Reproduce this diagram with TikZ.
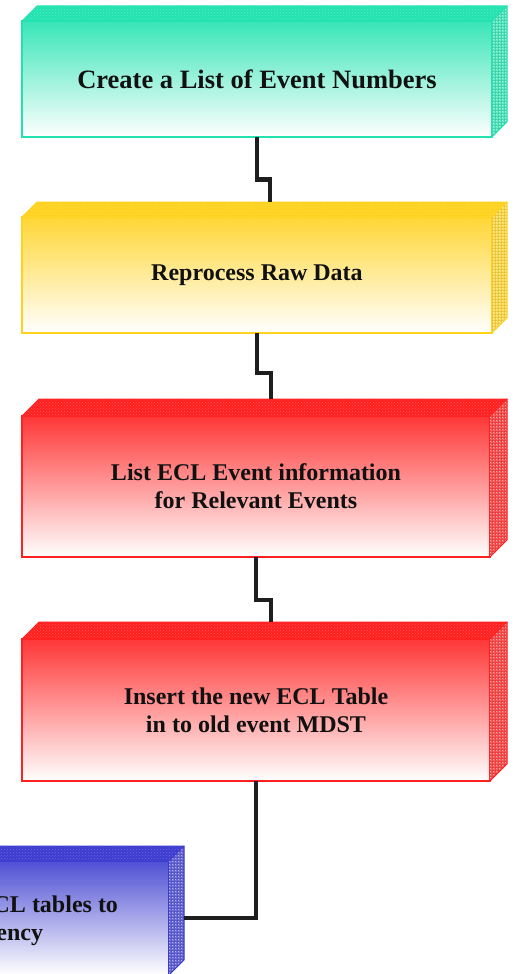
\documentclass[tikz,border=0pt]{standalone}
\usepackage{fontspec}
\setmainfont{Liberation Serif}
\usetikzlibrary{calc,patterns}
\definecolor{tealc}{HTML}{22E3B0}
\definecolor{yelc}{HTML}{FFD21E}
\definecolor{redc}{HTML}{FF2020}
\definecolor{bluc}{HTML}{3C3CD0}
\definecolor{ink}{HTML}{111111}
\definecolor{linec}{HTML}{1E1E1E}
\newcommand\cubefaces[3]{%
  \fill[#2] (#1.north west) -- ++(#3,-#3) -- ($(#1.north east)+(#3,-#3)$) -- (#1.north east) -- cycle;
  \fill[pattern=crosshatch dots, pattern color=white, opacity=0.25] (#1.north west) -- ++(#3,-#3) -- ($(#1.north east)+(#3,-#3)$) -- (#1.north east) -- cycle;
  \draw[#2, line width=1pt, line join=round] (#1.north west) -- ++(#3,-#3) -- ($(#1.north east)+(#3,-#3)$) -- (#1.north east);
  \fill[#2!75!white] (#1.north east) -- ++(#3,-#3) -- ($(#1.south east)+(#3,-#3)$) -- (#1.south east) -- cycle;
  \fill[pattern=crosshatch dots, pattern color=white, opacity=0.6] (#1.north east) -- ++(#3,-#3) -- ($(#1.south east)+(#3,-#3)$) -- (#1.south east) -- cycle;
  \fill[pattern=grid, pattern color=#2!80!black, opacity=0.35] (#1.north east) -- ++(#3,-#3) -- ($(#1.south east)+(#3,-#3)$) -- (#1.south east) -- cycle;
  \draw[#2, line width=1pt, line join=round] (#1.north east) -- ++(#3,-#3) -- ($(#1.south east)+(#3,-#3)$) -- (#1.south east);
}
\tikzset{
  front/.style={draw=#1, line width=1.3pt, top color=#1!90!white, bottom color=white,
    inner sep=0pt, outer sep=0pt, text=ink, align=center,
    font=\bfseries\fontsize{24}{28}\selectfont},
  txt/.style={inner sep=0pt, outer sep=0pt, text=ink, font=\bfseries\fontsize{24}{28}\selectfont},
  conn/.style={draw=linec, line width=4.5pt, line cap=butt, line join=miter},
}
\begin{document}
\begin{tikzpicture}[x=1pt,y=-1pt]
\useasboundingbox (0,0) rectangle (514,974);
\clip (0,0) rectangle (514,974);
\fill[white] (0,0) rectangle (514,974);

\node[front=tealc, minimum width=470pt, minimum height=116pt,
  font=\bfseries\fontsize{26.5}{30}\selectfont] (b1) at (257,79) {Create a List of Event Numbers};
\cubefaces{b1}{tealc}{15}

\node[front=yelc, minimum width=470pt, minimum height=116pt] (b2) at (257,275) {Reprocess Raw Data};
\cubefaces{b2}{yelc}{15}

\node[front=redc, minimum width=468pt, minimum height=141pt] (b3) at (256,486.5) {List ECL Event information\\for Relevant Events};
\cubefaces{b3}{redc}{17}

\node[front=redc, minimum width=468pt, minimum height=142pt] (b4) at (256,710) {Insert the new ECL Table\\in to old event MDST};
\cubefaces{b4}{redc}{17}

\node[front=bluc, minimum width=470pt, minimum height=114pt] (b5) at (-66,918) {};
\cubefaces{b5}{bluc}{15}
\node[txt, anchor=base east] (t5a) at (118,912) {CL tables to};
\node[txt, anchor=base east] (t5b) at (43,940) {ency};

\draw[conn] (b1.south) -- ++(0,42.5) -| ($(b2.north)+(13,-15)$);
\draw[conn] (b2.south) -- ++(0,40) -| ($(b3.north)+(15,-17)$);
\draw[conn] (b3.south) -- ++(0,43) -| ($(b4.north)+(15,-17)$);
\draw[conn] (b4.south) |- ($(b5.east)+(15,0)$);
\end{tikzpicture}
\end{document}
